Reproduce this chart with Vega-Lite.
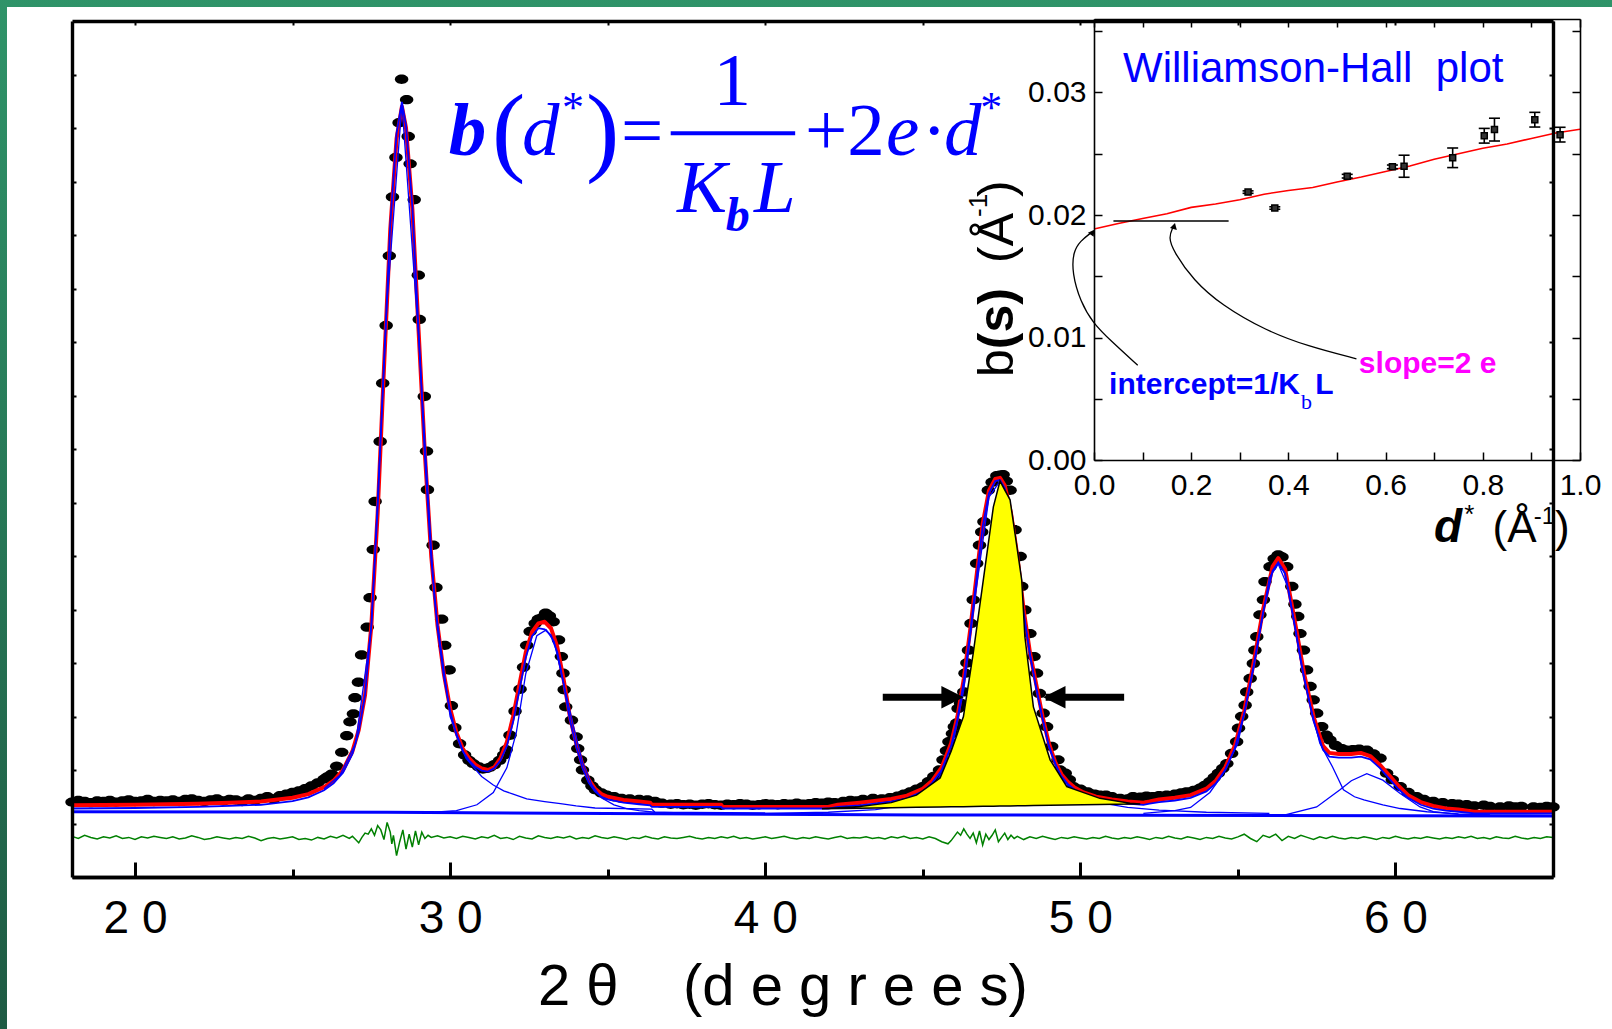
{
"$schema": "https://vega.github.io/schema/vega-lite/v6.json",
"width": 1481, "height": 856,
"autosize": {"type": "none"},
"padding": {"left": 72, "top": 21, "right": 59, "bottom": 152},
"background": "#ffffff",
"config": {"view": {"stroke": null}, "axis": {"grid": false, "domainColor": "#000000", "tickColor": "#000000", "labelColor": "#000000", "labelFont": "Liberation Sans", "labelFlush": false, "labelOverlap": false}},
"datasets": {
"obs": [{"t":18.0,"v":140},{"t":18.2,"v":143},{"t":18.4,"v":141},{"t":18.6,"v":139},{"t":18.8,"v":142},{"t":19.0,"v":141},{"t":19.2,"v":143},{"t":19.4,"v":140},{"t":19.6,"v":142},{"t":19.8,"v":144},{"t":20.0,"v":141},{"t":20.2,"v":142},{"t":20.4,"v":145},{"t":20.6,"v":141},{"t":20.8,"v":143},{"t":21.0,"v":142},{"t":21.2,"v":144},{"t":21.4,"v":141},{"t":21.6,"v":145},{"t":21.8,"v":146},{"t":22.0,"v":143},{"t":22.2,"v":141},{"t":22.4,"v":144},{"t":22.6,"v":146},{"t":22.8,"v":142},{"t":23.0,"v":145},{"t":23.2,"v":144},{"t":23.4,"v":141},{"t":23.6,"v":146},{"t":23.8,"v":143},{"t":24.0,"v":147},{"t":24.2,"v":150},{"t":24.4,"v":146},{"t":24.6,"v":152},{"t":24.8,"v":155},{"t":25.0,"v":158},{"t":25.2,"v":161},{"t":25.4,"v":165},{"t":25.6,"v":170},{"t":25.8,"v":176},{"t":26.0,"v":183},{"t":26.1,"v":187},{"t":26.24,"v":192},{"t":26.4,"v":207},{"t":26.56,"v":233},{"t":26.72,"v":264},{"t":26.82,"v":290},{"t":26.93,"v":305},{"t":26.98,"v":335},{"t":27.09,"v":364},{"t":27.19,"v":415},{"t":27.37,"v":467},{"t":27.46,"v":522},{"t":27.56,"v":612},{"t":27.62,"v":702},{"t":27.78,"v":814},{"t":27.86,"v":923},{"t":27.97,"v":1031},{"t":28.07,"v":1161},{"t":28.17,"v":1271},{"t":28.28,"v":1345},{"t":28.38,"v":1410},{"t":28.46,"v":1491},{"t":28.62,"v":1453},{"t":28.67,"v":1384},{"t":28.73,"v":1333},{"t":28.86,"v":1266},{"t":28.99,"v":1125},{"t":29.02,"v":1042},{"t":29.18,"v":898},{"t":29.25,"v":796},{"t":29.28,"v":724},{"t":29.46,"v":620},{"t":29.55,"v":541},{"t":29.73,"v":482},{"t":29.83,"v":433},{"t":29.97,"v":387},{"t":30.04,"v":320},{"t":30.15,"v":279},{"t":30.3,"v":249},{"t":30.46,"v":228},{"t":30.6,"v":218},{"t":30.73,"v":212},{"t":30.9,"v":206},{"t":31.04,"v":202},{"t":31.15,"v":203},{"t":31.26,"v":205},{"t":31.4,"v":210},{"t":31.57,"v":218},{"t":31.7,"v":228},{"t":31.78,"v":238},{"t":31.9,"v":265},{"t":32.06,"v":310},{"t":32.22,"v":351},{"t":32.33,"v":392},{"t":32.43,"v":433},{"t":32.54,"v":459},{"t":32.7,"v":474},{"t":32.8,"v":482},{"t":32.91,"v":484},{"t":33.03,"v":493},{"t":33.15,"v":488},{"t":33.27,"v":477},{"t":33.44,"v":443},{"t":33.53,"v":412},{"t":33.58,"v":381},{"t":33.62,"v":350},{"t":33.67,"v":318},{"t":33.85,"v":293},{"t":34.0,"v":262},{"t":34.05,"v":240},{"t":34.14,"v":219},{"t":34.2,"v":200},{"t":34.37,"v":181},{"t":34.5,"v":170},{"t":34.61,"v":163},{"t":34.8,"v":157},{"t":34.97,"v":153},{"t":35.2,"v":150},{"t":35.44,"v":147},{"t":35.7,"v":146},{"t":36.0,"v":145},{"t":36.26,"v":144},{"t":36.5,"v":141},{"t":36.72,"v":138},{"t":37.0,"v":136},{"t":37.2,"v":137},{"t":37.4,"v":135},{"t":37.6,"v":136},{"t":37.8,"v":134},{"t":38.0,"v":136},{"t":38.2,"v":137},{"t":38.4,"v":135},{"t":38.6,"v":134},{"t":38.8,"v":136},{"t":39.0,"v":135},{"t":39.2,"v":137},{"t":39.4,"v":136},{"t":39.6,"v":134},{"t":39.8,"v":135},{"t":40.0,"v":137},{"t":40.2,"v":136},{"t":40.4,"v":135},{"t":40.6,"v":137},{"t":40.8,"v":136},{"t":41.0,"v":138},{"t":41.2,"v":136},{"t":41.4,"v":137},{"t":41.6,"v":139},{"t":41.8,"v":138},{"t":42.0,"v":140},{"t":42.2,"v":139},{"t":42.48,"v":141},{"t":42.7,"v":143},{"t":42.9,"v":142},{"t":43.1,"v":145},{"t":43.42,"v":147},{"t":43.7,"v":146},{"t":43.96,"v":148},{"t":44.2,"v":151},{"t":44.4,"v":155},{"t":44.6,"v":159},{"t":44.8,"v":164},{"t":45.0,"v":169},{"t":45.18,"v":178},{"t":45.35,"v":188},{"t":45.53,"v":200},{"t":45.64,"v":219},{"t":45.75,"v":236},{"t":45.83,"v":253},{"t":45.94,"v":268},{"t":46.0,"v":281},{"t":46.08,"v":288},{"t":46.12,"v":315},{"t":46.2,"v":325},{"t":46.3,"v":346},{"t":46.34,"v":381},{"t":46.4,"v":400},{"t":46.45,"v":424},{"t":46.53,"v":474},{"t":46.6,"v":518},{"t":46.71,"v":586},{"t":46.8,"v":620},{"t":46.87,"v":645},{"t":46.94,"v":664},{"t":47.08,"v":723},{"t":47.2,"v":738},{"t":47.35,"v":750},{"t":47.45,"v":751},{"t":47.55,"v":752},{"t":47.65,"v":740},{"t":47.77,"v":723},{"t":47.93,"v":649},{"t":48.09,"v":599},{"t":48.14,"v":543},{"t":48.24,"v":499},{"t":48.4,"v":455},{"t":48.53,"v":412},{"t":48.61,"v":381},{"t":48.7,"v":343},{"t":48.82,"v":306},{"t":48.93,"v":281},{"t":49.09,"v":244},{"t":49.29,"v":219},{"t":49.35,"v":200},{"t":49.52,"v":194},{"t":49.65,"v":182},{"t":49.78,"v":169},{"t":50.0,"v":164},{"t":50.23,"v":159},{"t":50.45,"v":155},{"t":50.62,"v":153},{"t":50.81,"v":153},{"t":51.0,"v":150},{"t":51.26,"v":147},{"t":51.5,"v":146},{"t":51.67,"v":150},{"t":51.9,"v":149},{"t":52.1,"v":151},{"t":52.3,"v":150},{"t":52.5,"v":152},{"t":52.74,"v":153},{"t":53.0,"v":155},{"t":53.2,"v":157},{"t":53.37,"v":159},{"t":53.6,"v":162},{"t":53.8,"v":166},{"t":53.95,"v":171},{"t":54.11,"v":178},{"t":54.25,"v":186},{"t":54.38,"v":194},{"t":54.52,"v":203},{"t":54.65,"v":212},{"t":54.8,"v":231},{"t":54.96,"v":253},{"t":55.02,"v":278},{"t":55.12,"v":300},{"t":55.23,"v":321},{"t":55.28,"v":346},{"t":55.39,"v":371},{"t":55.49,"v":399},{"t":55.54,"v":424},{"t":55.6,"v":449},{"t":55.7,"v":490},{"t":55.81,"v":518},{"t":55.86,"v":552},{"t":56.02,"v":580},{"t":56.15,"v":595},{"t":56.28,"v":602},{"t":56.4,"v":598},{"t":56.55,"v":580},{"t":56.71,"v":543},{"t":56.81,"v":510},{"t":56.9,"v":487},{"t":56.97,"v":455},{"t":57.08,"v":424},{"t":57.18,"v":387},{"t":57.29,"v":356},{"t":57.39,"v":331},{"t":57.5,"v":306},{"t":57.66,"v":281},{"t":57.8,"v":265},{"t":57.92,"v":256},{"t":58.1,"v":246},{"t":58.3,"v":240},{"t":58.45,"v":237},{"t":58.65,"v":238},{"t":58.85,"v":239},{"t":59.09,"v":237},{"t":59.3,"v":230},{"t":59.51,"v":222},{"t":59.72,"v":194},{"t":59.9,"v":182},{"t":60.15,"v":169},{"t":60.4,"v":158},{"t":60.67,"v":150},{"t":60.9,"v":145},{"t":61.2,"v":141},{"t":61.5,"v":139},{"t":61.8,"v":137},{"t":62.0,"v":136},{"t":62.26,"v":135},{"t":62.5,"v":133},{"t":62.8,"v":134},{"t":63.0,"v":132},{"t":63.32,"v":131},{"t":63.6,"v":133},{"t":63.8,"v":131},{"t":64.0,"v":132},{"t":64.38,"v":131},{"t":64.6,"v":130},{"t":64.8,"v":132},{"t":65.0,"v":131}],
"fit": [{"t":18,"r":134,"b":128},{"t":20,"r":135,"b":129},{"t":22,"r":137,"b":131},{"t":23,"r":139,"b":133},{"t":24,"r":141,"b":135},{"t":25,"r":148,"b":142},{"t":25.5,"r":155,"b":149},{"t":26,"r":168,"b":162},{"t":26.3,"r":180,"b":175},{"t":26.6,"r":200,"b":195},{"t":26.9,"r":235,"b":230},{"t":27.1,"r":275,"b":272},{"t":27.3,"r":340,"b":340},{"t":27.5,"r":470,"b":472},{"t":27.7,"r":680,"b":690},{"t":27.9,"r":950,"b":960},{"t":28.1,"r":1210,"b":1220},{"t":28.3,"r":1380,"b":1390},{"t":28.47,"r":1440,"b":1449},{"t":28.6,"r":1400,"b":1405},{"t":28.8,"r":1250,"b":1255},{"t":29.0,"r":1020,"b":1020},{"t":29.2,"r":790,"b":785},{"t":29.4,"r":600,"b":595},{"t":29.6,"r":470,"b":465},{"t":29.8,"r":380,"b":375},{"t":30.0,"r":315,"b":310},{"t":30.2,"r":270,"b":265},{"t":30.4,"r":240,"b":235},{"t":30.6,"r":222,"b":218},{"t":30.8,"r":210,"b":206},{"t":31.0,"r":203,"b":199},{"t":31.2,"r":200,"b":197},{"t":31.4,"r":205,"b":203},{"t":31.6,"r":222,"b":218},{"t":31.8,"r":252,"b":245},{"t":32.0,"r":300,"b":290},{"t":32.2,"r":360,"b":350},{"t":32.4,"r":420,"b":410},{"t":32.6,"r":458,"b":450},{"t":32.8,"r":474,"b":465},{"t":33.0,"r":477,"b":463},{"t":33.2,"r":465,"b":452},{"t":33.4,"r":430,"b":420},{"t":33.6,"r":370,"b":362},{"t":33.8,"r":300,"b":294},{"t":34.0,"r":250,"b":244},{"t":34.2,"r":210,"b":204},{"t":34.4,"r":182,"b":176},{"t":34.6,"r":165,"b":160},{"t":34.8,"r":155,"b":150},{"t":35.0,"r":150,"b":145},{"t":35.5,"r":144,"b":139},{"t":36.0,"r":141,"b":136},{"t":36.35,"r":139,"b":134},{"t":36.4,"r":135,"b":131},{"t":38.6,"r":135,"b":131},{"t":38.65,"r":131,"b":128},{"t":42.0,"r":131,"b":128},{"t":42.3,"r":135,"b":131},{"t":43,"r":139,"b":134},{"t":44,"r":146,"b":141},{"t":44.5,"r":152,"b":147},{"t":45.0,"r":165,"b":160},{"t":45.3,"r":180,"b":176},{"t":45.6,"r":205,"b":200},{"t":45.9,"r":250,"b":245},{"t":46.1,"r":300,"b":295},{"t":46.3,"r":370,"b":365},{"t":46.5,"r":460,"b":455},{"t":46.7,"r":560,"b":555},{"t":46.9,"r":660,"b":655},{"t":47.1,"r":722,"b":717},{"t":47.3,"r":744,"b":740},{"t":47.45,"r":746,"b":742},{"t":47.6,"r":732,"b":727},{"t":47.8,"r":680,"b":675},{"t":48.0,"r":600,"b":595},{"t":48.2,"r":500,"b":495},{"t":48.4,"r":420,"b":415},{"t":48.6,"r":360,"b":355},{"t":48.8,"r":300,"b":296},{"t":49.0,"r":250,"b":246},{"t":49.2,"r":215,"b":211},{"t":49.4,"r":192,"b":188},{"t":49.6,"r":178,"b":174},{"t":49.8,"r":168,"b":164},{"t":50.1,"r":158,"b":154},{"t":50.5,"r":150,"b":146},{"t":51,"r":145,"b":141},{"t":51.5,"r":141,"b":137},{"t":52.0,"r":139,"b":135},{"t":52.2,"r":141,"b":137},{"t":52.5,"r":145,"b":140},{"t":53,"r":148,"b":143},{"t":53.5,"r":153,"b":148},{"t":54.0,"r":165,"b":160},{"t":54.3,"r":180,"b":175},{"t":54.6,"r":205,"b":200},{"t":54.9,"r":245,"b":240},{"t":55.2,"r":310,"b":305},{"t":55.5,"r":400,"b":395},{"t":55.8,"r":500,"b":495},{"t":56.1,"r":580,"b":572},{"t":56.28,"r":596,"b":588},{"t":56.5,"r":575,"b":567},{"t":56.8,"r":480,"b":472},{"t":57.1,"r":380,"b":372},{"t":57.4,"r":300,"b":292},{"t":57.7,"r":245,"b":238},{"t":57.9,"r":232,"b":225},{"t":58.2,"r":230,"b":223},{"t":58.6,"r":230,"b":223},{"t":58.9,"r":232,"b":225},{"t":59.2,"r":226,"b":220},{"t":59.5,"r":210,"b":204},{"t":59.8,"r":190,"b":184},{"t":60.1,"r":170,"b":164},{"t":60.4,"r":153,"b":148},{"t":60.8,"r":140,"b":135},{"t":61.2,"r":133,"b":128},{"t":61.6,"r":128,"b":124},{"t":62,"r":126,"b":122},{"t":62.5,"r":122,"b":119},{"t":65,"r":122,"b":119}],
"comp": [{"c":"1","t":26,"v":165},{"c":"1","t":26.5,"v":190},{"c":"1","t":27,"v":250},{"c":"1","t":27.5,"v":465},{"c":"1","t":28,"v":1075},{"c":"1","t":28.47,"v":1445},{"c":"1","t":29,"v":1010},{"c":"1","t":29.5,"v":520},{"c":"1","t":30,"v":300},{"c":"1","t":30.5,"v":222},{"c":"1","t":31,"v":188},{"c":"1","t":31.37,"v":172},{"c":"1","t":31.7,"v":161},{"c":"1","t":32,"v":155},{"c":"1","t":32.43,"v":146},{"c":"1","t":33,"v":141},{"c":"1","t":33.5,"v":137},{"c":"1","t":34,"v":133},{"c":"1","t":34.6,"v":129},{"c":"1","t":36.4,"v":127},{"c":"1","t":36.5,"v":121},{"c":"1","t":40,"v":120},
{"c":"2","t":29.5,"v":121},{"c":"2","t":30.2,"v":124},{"c":"2","t":30.85,"v":135},{"c":"2","t":31.37,"v":158},{"c":"2","t":31.8,"v":204},{"c":"2","t":32.1,"v":270},{"c":"2","t":32.4,"v":380},{"c":"2","t":32.75,"v":451},{"c":"2","t":33.05,"v":462},{"c":"2","t":33.3,"v":440},{"c":"2","t":33.6,"v":362},{"c":"2","t":33.9,"v":285},{"c":"2","t":34.2,"v":215},{"c":"2","t":34.5,"v":172},{"c":"2","t":34.8,"v":148},{"c":"2","t":35.2,"v":135},{"c":"2","t":35.6,"v":128},{"c":"2","t":36,"v":124},{"c":"2","t":36.5,"v":121},{"c":"2","t":38,"v":119},
{"c":"3","t":40,"v":119},{"c":"3","t":42,"v":121},{"c":"3","t":43.5,"v":126},{"c":"3","t":44.5,"v":135},{"c":"3","t":45.3,"v":160},{"c":"3","t":45.9,"v":232},{"c":"3","t":46.3,"v":350},{"c":"3","t":46.7,"v":540},{"c":"3","t":47.1,"v":710},{"c":"3","t":47.45,"v":740},{"c":"3","t":47.8,"v":668},{"c":"3","t":48.2,"v":490},{"c":"3","t":48.6,"v":350},{"c":"3","t":49,"v":243},{"c":"3","t":49.4,"v":185},{"c":"3","t":49.8,"v":158},{"c":"3","t":50.2,"v":146},{"c":"3","t":50.8,"v":137},{"c":"3","t":51.5,"v":130},{"c":"3","t":52.5,"v":125},{"c":"3","t":54,"v":121},{"c":"3","t":56,"v":119},
{"c":"4","t":52,"v":119},{"c":"4","t":53,"v":124},{"c":"4","t":53.5,"v":130},{"c":"4","t":54.11,"v":158},{"c":"4","t":54.5,"v":190},{"c":"4","t":55,"v":250},{"c":"4","t":55.5,"v":390},{"c":"4","t":56,"v":560},{"c":"4","t":56.28,"v":585},{"c":"4","t":56.6,"v":540},{"c":"4","t":57,"v":400},{"c":"4","t":57.3,"v":320},{"c":"4","t":57.6,"v":250},{"c":"4","t":58.0,"v":206},{"c":"4","t":58.35,"v":163},{"c":"4","t":58.7,"v":150},{"c":"4","t":59,"v":144},{"c":"4","t":59.6,"v":135},{"c":"4","t":60.15,"v":128},{"c":"4","t":61,"v":122},{"c":"4","t":62,"v":118},{"c":"4","t":63,"v":116},{"c":"4","t":65,"v":115},
{"c":"5","t":56.5,"v":116},{"c":"5","t":57.5,"v":131},{"c":"5","t":58.24,"v":163},{"c":"5","t":58.6,"v":180},{"c":"5","t":59.09,"v":193},{"c":"5","t":59.6,"v":181},{"c":"5","t":60.15,"v":156},{"c":"5","t":60.78,"v":131},{"c":"5","t":61.2,"v":122},{"c":"5","t":62,"v":117},{"c":"5","t":63,"v":116}],
"bgl": [{"t":18,"v":122},{"t":28,"v":121},{"t":36.5,"v":118},{"t":45,"v":116},{"t":56,"v":115},{"t":65,"v":114}],
"res": [{"t":18.0,"v":76},{"t":18.2,"v":72},{"t":18.4,"v":78},{"t":18.6,"v":74},{"t":18.8,"v":71},{"t":19.0,"v":75},{"t":19.2,"v":73},{"t":19.4,"v":77},{"t":19.6,"v":72},{"t":19.8,"v":74},{"t":20.0,"v":70},{"t":20.2,"v":75},{"t":20.4,"v":73},{"t":20.6,"v":76},{"t":20.8,"v":74},{"t":21.0,"v":72},{"t":21.2,"v":75},{"t":21.4,"v":71},{"t":21.6,"v":73},{"t":21.8,"v":77},{"t":22.0,"v":74},{"t":22.2,"v":70},{"t":22.4,"v":72},{"t":22.6,"v":75},{"t":22.8,"v":73},{"t":23.0,"v":71},{"t":23.2,"v":74},{"t":23.4,"v":72},{"t":23.6,"v":76},{"t":23.8,"v":73},{"t":24.0,"v":68},{"t":24.2,"v":72},{"t":24.4,"v":74},{"t":24.6,"v":71},{"t":24.8,"v":73},{"t":25.0,"v":75},{"t":25.2,"v":70},{"t":25.4,"v":72},{"t":25.6,"v":69},{"t":25.8,"v":74},{"t":26.0,"v":71},{"t":26.2,"v":76},{"t":26.4,"v":73},{"t":26.6,"v":78},{"t":26.8,"v":72},{"t":26.9,"v":76},{"t":27.0,"v":70},{"t":27.1,"v":64},{"t":27.2,"v":74},{"t":27.3,"v":82},{"t":27.4,"v":80},{"t":27.5,"v":90},{"t":27.6,"v":78},{"t":27.7,"v":96},{"t":27.8,"v":88},{"t":27.9,"v":70},{"t":28.0,"v":102},{"t":28.1,"v":84},{"t":28.15,"v":62},{"t":28.2,"v":78},{"t":28.3,"v":40},{"t":28.4,"v":66},{"t":28.5,"v":88},{"t":28.6,"v":52},{"t":28.7,"v":80},{"t":28.8,"v":56},{"t":28.9,"v":86},{"t":29.0,"v":60},{"t":29.1,"v":84},{"t":29.2,"v":72},{"t":29.3,"v":78},{"t":29.4,"v":74},{"t":29.6,"v":77},{"t":29.8,"v":73},{"t":30.0,"v":75},{"t":30.2,"v":72},{"t":30.4,"v":76},{"t":30.6,"v":74},{"t":30.8,"v":71},{"t":31.0,"v":75},{"t":31.2,"v":73},{"t":31.4,"v":78},{"t":31.6,"v":72},{"t":31.8,"v":74},{"t":32.0,"v":70},{"t":32.2,"v":76},{"t":32.4,"v":73},{"t":32.6,"v":71},{"t":32.8,"v":77},{"t":33.0,"v":74},{"t":33.2,"v":72},{"t":33.4,"v":75},{"t":33.6,"v":73},{"t":33.8,"v":76},{"t":34.0,"v":71},{"t":34.2,"v":74},{"t":34.4,"v":72},{"t":34.6,"v":77},{"t":34.8,"v":74},{"t":35.0,"v":72},{"t":35.2,"v":75},{"t":35.4,"v":73},{"t":35.6,"v":70},{"t":35.8,"v":74},{"t":36.0,"v":72},{"t":36.2,"v":76},{"t":36.4,"v":73},{"t":36.6,"v":71},{"t":36.8,"v":75},{"t":37.0,"v":73},{"t":37.2,"v":72},{"t":37.4,"v":74},{"t":37.6,"v":76},{"t":37.8,"v":73},{"t":38.0,"v":71},{"t":38.2,"v":74},{"t":38.4,"v":72},{"t":38.6,"v":75},{"t":38.8,"v":73},{"t":39.0,"v":76},{"t":39.2,"v":72},{"t":39.4,"v":74},{"t":39.6,"v":71},{"t":39.8,"v":73},{"t":40.0,"v":75},{"t":40.2,"v":72},{"t":40.4,"v":74},{"t":40.6,"v":76},{"t":40.8,"v":73},{"t":41.0,"v":71},{"t":41.2,"v":74},{"t":41.4,"v":72},{"t":41.6,"v":75},{"t":41.8,"v":73},{"t":42.0,"v":71},{"t":42.2,"v":74},{"t":42.4,"v":76},{"t":42.6,"v":72},{"t":42.8,"v":74},{"t":43.0,"v":73},{"t":43.2,"v":75},{"t":43.4,"v":72},{"t":43.6,"v":74},{"t":43.8,"v":71},{"t":44.0,"v":75},{"t":44.2,"v":73},{"t":44.4,"v":76},{"t":44.6,"v":72},{"t":44.8,"v":74},{"t":45.0,"v":71},{"t":45.2,"v":75},{"t":45.4,"v":72},{"t":45.6,"v":66},{"t":45.8,"v":62},{"t":45.9,"v":68},{"t":46.0,"v":76},{"t":46.1,"v":84},{"t":46.2,"v":78},{"t":46.3,"v":90},{"t":46.4,"v":80},{"t":46.5,"v":72},{"t":46.6,"v":82},{"t":46.7,"v":64},{"t":46.8,"v":86},{"t":46.9,"v":60},{"t":47.0,"v":80},{"t":47.1,"v":70},{"t":47.2,"v":78},{"t":47.3,"v":88},{"t":47.4,"v":66},{"t":47.5,"v":74},{"t":47.6,"v":82},{"t":47.7,"v":70},{"t":47.8,"v":78},{"t":47.9,"v":72},{"t":48.0,"v":76},{"t":48.2,"v":70},{"t":48.4,"v":75},{"t":48.6,"v":72},{"t":48.8,"v":76},{"t":49.0,"v":73},{"t":49.2,"v":70},{"t":49.4,"v":74},{"t":49.6,"v":72},{"t":49.8,"v":75},{"t":50.0,"v":73},{"t":50.2,"v":71},{"t":50.4,"v":74},{"t":50.6,"v":72},{"t":50.8,"v":76},{"t":51.0,"v":73},{"t":51.2,"v":71},{"t":51.4,"v":74},{"t":51.6,"v":72},{"t":51.8,"v":75},{"t":52.0,"v":73},{"t":52.2,"v":70},{"t":52.4,"v":74},{"t":52.6,"v":72},{"t":52.8,"v":76},{"t":53.0,"v":73},{"t":53.2,"v":71},{"t":53.4,"v":75},{"t":53.6,"v":73},{"t":53.8,"v":70},{"t":54.0,"v":74},{"t":54.2,"v":72},{"t":54.4,"v":76},{"t":54.6,"v":73},{"t":54.8,"v":71},{"t":55.0,"v":75},{"t":55.2,"v":80},{"t":55.4,"v":72},{"t":55.6,"v":66},{"t":55.8,"v":78},{"t":56.0,"v":74},{"t":56.2,"v":80},{"t":56.4,"v":68},{"t":56.6,"v":76},{"t":56.8,"v":72},{"t":57.0,"v":78},{"t":57.2,"v":74},{"t":57.4,"v":70},{"t":57.6,"v":75},{"t":57.8,"v":72},{"t":58.0,"v":76},{"t":58.2,"v":73},{"t":58.4,"v":71},{"t":58.6,"v":74},{"t":58.8,"v":72},{"t":59.0,"v":75},{"t":59.2,"v":73},{"t":59.4,"v":70},{"t":59.6,"v":74},{"t":59.8,"v":72},{"t":60.0,"v":76},{"t":60.2,"v":73},{"t":60.4,"v":71},{"t":60.6,"v":74},{"t":60.8,"v":72},{"t":61.0,"v":75},{"t":61.2,"v":73},{"t":61.4,"v":71},{"t":61.6,"v":74},{"t":61.8,"v":72},{"t":62.0,"v":75},{"t":62.2,"v":73},{"t":62.4,"v":76},{"t":62.6,"v":72},{"t":62.8,"v":74},{"t":63.0,"v":71},{"t":63.2,"v":75},{"t":63.4,"v":73},{"t":63.6,"v":72},{"t":63.8,"v":76},{"t":64.0,"v":73},{"t":64.2,"v":71},{"t":64.4,"v":74},{"t":64.6,"v":72},{"t":64.8,"v":75},{"t":65.0,"v":74}],
"yel": [{"t":41.8,"v":127.5,"b":127.5},{"t":43.0,"v":132,"b":128.6},{"t":44.0,"v":139,"b":129.5},{"t":44.8,"v":153,"b":130.2},{"t":45.55,"v":185,"b":130.9},{"t":45.9,"v":235,"b":131.2},{"t":46.29,"v":300,"b":131.5},{"t":46.6,"v":418,"b":131.8},{"t":46.92,"v":555,"b":132.1},{"t":47.24,"v":692,"b":132.4},{"t":47.45,"v":740,"b":132.6},{"t":47.77,"v":705,"b":132.9},{"t":48.14,"v":555,"b":133.2},{"t":48.24,"v":449,"b":133.3},{"t":48.51,"v":318,"b":133.6},{"t":49.04,"v":219,"b":134},{"t":49.57,"v":169,"b":134.5},{"t":50.62,"v":147,"b":135.5},{"t":51.58,"v":138,"b":136.3},{"t":51.9,"v":136.6,"b":136.6}],
"shaft": [{"t":43.73,"t2":45.7,"v":336},{"t":48.9,"t2":51.39,"v":336}],
"headR": [{"t":46.3,"v":336}],
"headL": [{"t":48.82,"v":336}],
"bar": [{"t":37.0,"t2":40.95,"v":1390}],
"fml": [{"s":"b","t":29.96,"v":1350,"k":"bi"},{"s":"d","t":32.28,"v":1350,"k":"i"},{"s":"K","t":37.2,"v":1243,"k":"i"},{"s":"L","t":39.64,"v":1243,"k":"i"},{"s":"e","t":43.83,"v":1350,"k":"i"},{"s":"d","t":45.67,"v":1350,"k":"i"},{"s":"=","t":35.42,"v":1350,"k":"r"},{"s":"+2","t":41.26,"v":1350,"k":"r"},{"s":"1","t":38.95,"v":1443,"k":"c"},{"s":"·","t":45.36,"v":1350,"k":"c"},{"s":"(","t":31.33,"v":1334.6,"k":"p"},{"s":")","t":34.31,"v":1334.6,"k":"p"},{"s":"*","t":33.55,"v":1412,"k":"a"},{"s":"*","t":46.82,"v":1412,"k":"a"},{"s":"b","t":38.75,"v":1207.5,"k":"sb"},{"s":"2\u00a0θ\u00a0\u00a0\u00a0\u00a0(d\u00a0e\u00a0g\u00a0r\u00a0e\u00a0e\u00a0s)","t":40.56,"v":-240,"k":"tt"}],
"ifit": [{"x":0,"y":0.01886},{"x":0.05,"y":0.0193},{"x":0.1,"y":0.01972},{"x":0.15,"y":0.0201},{"x":0.2,"y":0.02062},{"x":0.25,"y":0.0209},{"x":0.3,"y":0.02125},{"x":0.35,"y":0.0217},{"x":0.4,"y":0.022},{"x":0.45,"y":0.02225},{"x":0.5,"y":0.0227},{"x":0.55,"y":0.0231},{"x":0.6,"y":0.02355},{"x":0.65,"y":0.024},{"x":0.7,"y":0.02455},{"x":0.75,"y":0.025},{"x":0.8,"y":0.02545},{"x":0.85,"y":0.0258},{"x":0.9,"y":0.02625},{"x":0.95,"y":0.0267},{"x":1.0,"y":0.027}],
"ipts": [{"x":0.317,"y":0.02187,"lo":0.02177,"hi":0.02197},{"x":0.372,"y":0.02057,"lo":0.02047,"hi":0.02067},{"x":0.521,"y":0.02317,"lo":0.02302,"hi":0.02332},{"x":0.614,"y":0.02393,"lo":0.02378,"hi":0.02408},{"x":0.638,"y":0.02398,"lo":0.02308,"hi":0.02488},{"x":0.738,"y":0.02467,"lo":0.02387,"hi":0.02547},{"x":0.803,"y":0.02647,"lo":0.02587,"hi":0.02707},{"x":0.824,"y":0.02697,"lo":0.02604,"hi":0.0279},{"x":0.907,"y":0.02778,"lo":0.02718,"hi":0.02838},{"x":0.959,"y":0.02656,"lo":0.02596,"hi":0.02716}],
"ihl": [{"x":0.04,"x2":0.277,"y":0.01951}],
"icurve": [{"id":1,"o":1,"x":0.09,"y":0.00773},{"id":1,"o":2,"x":0.035,"y":0.00972},{"id":1,"o":3,"x":-0.002,"y":0.01117},{"id":1,"o":4,"x":-0.028,"y":0.01293},{"id":1,"o":5,"x":-0.045,"y":0.01525},{"id":1,"o":6,"x":-0.043,"y":0.017},{"id":1,"o":7,"x":-0.028,"y":0.01788},{"id":1,"o":8,"x":-0.006,"y":0.01855},{"id":2,"o":1,"x":0.54,"y":0.00826},{"id":2,"o":2,"x":0.44,"y":0.00928},{"id":2,"o":3,"x":0.352,"y":0.01059},{"id":2,"o":4,"x":0.263,"y":0.01263},{"id":2,"o":5,"x":0.2045,"y":0.01467},{"id":2,"o":6,"x":0.164,"y":0.017},{"id":2,"o":7,"x":0.153,"y":0.01816},{"id":2,"o":8,"x":0.163,"y":0.01905}],
"ihead1": [{"x":-0.003,"y":0.0186}],
"ihead2": [{"x":0.165,"y":0.0191}],
"itxt": [{"s":"Williamson-Hall\u00a0\u00a0plot","x":0.0597,"y":0.03088,"k":"wh"},{"s":"intercept=1/K","x":0.031,"y":0.00539,"k":"ib"},{"s":"L","x":0.455,"y":0.00539,"k":"ib"},{"s":"b","x":0.426,"y":0.0042,"k":"isub"},{"s":"slope=2 e","x":0.545,"y":0.00712,"k":"mag"},{"s":"d","x":0.6996,"y":-0.00667,"k":"xd"},{"s":"*","x":0.762,"y":-0.00517,"k":"xa"},{"s":"(Å","x":0.82,"y":-0.00667,"k":"xp"},{"s":"-1","x":0.905,"y":-0.00522,"k":"xs"},{"s":")","x":0.9486,"y":-0.00667,"k":"xp"},{"s":"b","x":-0.1667,"y":0.00678,"k":"yr"},{"s":"(s)","x":-0.1667,"y":0.00904,"k":"yb"},{"s":"(Å","x":-0.1667,"y":0.01608,"k":"yr"},{"s":"-1","x":-0.2202,"y":0.01984,"k":"ysup"},{"s":")","x":-0.1667,"y":0.02147,"k":"yr"}]
},
"layer": [
{
"layer": [
{"data": {"values": [{}]}, "mark": {"type": "rect", "clip": false, "fill": {"gradient": "linear", "x1": 0, "y1": 0, "x2": 0, "y2": 1, "stops": [{"offset": 0, "color": "#2f9469"}, {"offset": 1, "color": "#1e5a43"}]}},
 "encoding": {"x": {"datum": 15.6, "type": "quantitative", "scale": {"domain": [18, 65], "nice": false, "zero": false}, "axis": null}, "x2": {"datum": 67}, "y": {"datum": -300, "type": "quantitative", "scale": {"domain": [0, 1600], "nice": false, "zero": false}, "axis": null}, "y2": {"datum": 1660}}},
{"data": {"values": [{}]}, "mark": {"type": "rect", "clip": false, "fill": "#ffffff"},
 "encoding": {"x": {"datum": 15.937, "type": "quantitative", "scale": {"domain": [18, 65], "nice": false, "zero": false}, "axis": null}, "x2": {"datum": 67}, "y": {"datum": -300, "type": "quantitative", "scale": {"domain": [0, 1600], "nice": false, "zero": false}, "axis": null}, "y2": {"datum": 1626.2}}},
{"data": {"name": "obs"}, "mark": {"type": "point", "shape": "M-1,0A1,0.7,0,1,0,1,0A1,0.7,0,1,0,-1,0Z", "filled": true, "color": "#000000", "opacity": 1, "size": 180},
 "encoding": {
  "x": {"field": "t", "type": "quantitative", "scale": {"domain": [18, 65], "nice": false, "zero": false}, "axis": {"zindex": 1, "orient": "bottom", "values": [20, 30, 40, 50, 60], "tickSize": -15, "tickWidth": 3, "domainWidth": 3.4, "labelFontSize": 46, "labelPadding": 70, "labelBaseline": "alphabetic", "labelExpr": "slice(datum.label,0,1)+' '+slice(datum.label,1)", "title": null}},
  "y": {"field": "v", "type": "quantitative", "scale": {"domain": [0, 1600], "nice": false, "zero": false}, "axis": {"zindex": 1, "orient": "left", "values": [100,200,300,400,500,600,700,800,900,1000,1100,1200,1300,1400,1500], "tickSize": -4, "tickWidth": 2, "domainWidth": 3.4, "labels": false, "title": null}}}},
{"data": {"name": "fit"}, "mark": {"type": "line", "color": "#ff0000", "strokeWidth": 4, "strokeJoin": "round"},
 "encoding": {
  "x": {"field": "t", "type": "quantitative", "scale": {"domain": [18, 65], "nice": false, "zero": false}, "axis": {"zindex": 1, "orient": "bottom", "values": [25, 35, 45, 55], "tickSize": -8, "tickWidth": 3, "domainWidth": 3.4, "labels": false, "title": null}},
  "y": {"field": "r", "type": "quantitative", "scale": {"domain": [0, 1600], "nice": false, "zero": false}, "axis": {"zindex": 1, "orient": "right", "values": [100,200,300,400,500,600,700,800,900,1000,1100,1200,1300,1400,1500], "tickSize": -4, "tickWidth": 2, "domainWidth": 3.4, "labels": false, "title": null}}}},
{"data": {"name": "fit"}, "mark": {"type": "line", "color": "#0000ff", "strokeWidth": 1.8},
 "encoding": {
  "x": {"field": "t", "type": "quantitative", "scale": {"domain": [18, 65], "nice": false, "zero": false}, "axis": {"zindex": 1, "orient": "top", "values": [20,25,30,35,40,45,50,55,60,65], "tickSize": -4, "tickWidth": 2, "domainWidth": 3.4, "labels": false, "title": null}},
  "y": {"field": "b", "type": "quantitative", "scale": {"domain": [0, 1600], "nice": false, "zero": false}, "axis": null}}},
{"data": {"name": "comp"}, "mark": {"type": "line", "color": "#0000ff", "strokeWidth": 1.3},
 "encoding": {"x": {"field": "t", "type": "quantitative", "scale": {"domain": [18, 65], "nice": false, "zero": false}, "axis": null}, "y": {"field": "v", "type": "quantitative", "scale": {"domain": [0, 1600], "nice": false, "zero": false}, "axis": null}, "detail": {"field": "c", "type": "nominal"}}},
{"data": {"name": "yel"}, "mark": {"type": "area", "fill": "#ffff00", "stroke": "#000000", "strokeWidth": 1.5, "opacity": 1, "fillOpacity": 1},
 "encoding": {"x": {"field": "t", "type": "quantitative", "scale": {"domain": [18, 65], "nice": false, "zero": false}, "axis": null}, "y": {"field": "v", "type": "quantitative", "scale": {"domain": [0, 1600], "nice": false, "zero": false}, "axis": null}, "y2": {"field": "b"}}},
{"data": {"name": "bgl"}, "mark": {"type": "line", "color": "#0000ff", "strokeWidth": 3},
 "encoding": {"x": {"field": "t", "type": "quantitative", "scale": {"domain": [18, 65], "nice": false, "zero": false}, "axis": null}, "y": {"field": "v", "type": "quantitative", "scale": {"domain": [0, 1600], "nice": false, "zero": false}, "axis": null}}},
{"data": {"name": "res"}, "mark": {"type": "line", "color": "#008000", "strokeWidth": 1.5},
 "encoding": {"x": {"field": "t", "type": "quantitative", "scale": {"domain": [18, 65], "nice": false, "zero": false}, "axis": null}, "y": {"field": "v", "type": "quantitative", "scale": {"domain": [0, 1600], "nice": false, "zero": false}, "axis": null}}},
{"data": {"name": "shaft"}, "mark": {"type": "rule", "color": "#000000", "strokeWidth": 7, "strokeCap": "butt"},
 "encoding": {"x": {"field": "t", "type": "quantitative", "scale": {"domain": [18, 65], "nice": false, "zero": false}, "axis": null}, "x2": {"field": "t2"}, "y": {"field": "v", "type": "quantitative", "scale": {"domain": [0, 1600], "nice": false, "zero": false}, "axis": null}}},
{"data": {"name": "headR"}, "mark": {"type": "point", "shape": "M0,0L-2,-1L-2,1Z", "filled": true, "color": "#000000", "opacity": 1, "size": 500},
 "encoding": {"x": {"field": "t", "type": "quantitative", "scale": {"domain": [18, 65], "nice": false, "zero": false}, "axis": null}, "y": {"field": "v", "type": "quantitative", "scale": {"domain": [0, 1600], "nice": false, "zero": false}, "axis": null}}},
{"data": {"name": "headL"}, "mark": {"type": "point", "shape": "M0,0L2,-1L2,1Z", "filled": true, "color": "#000000", "opacity": 1, "size": 500},
 "encoding": {"x": {"field": "t", "type": "quantitative", "scale": {"domain": [18, 65], "nice": false, "zero": false}, "axis": null}, "y": {"field": "v", "type": "quantitative", "scale": {"domain": [0, 1600], "nice": false, "zero": false}, "axis": null}}},
{"data": {"name": "bar"}, "mark": {"type": "rule", "color": "#0000ff", "strokeWidth": 4, "strokeCap": "butt"},
 "encoding": {"x": {"field": "t", "type": "quantitative", "scale": {"domain": [18, 65], "nice": false, "zero": false}, "axis": null}, "x2": {"field": "t2"}, "y": {"field": "v", "type": "quantitative", "scale": {"domain": [0, 1600], "nice": false, "zero": false}, "axis": null}}},
{"data": {"name": "fml"}, "transform": [{"filter": "datum.k == 'bi'"}], "mark": {"type": "text", "font": "Liberation Serif", "fontSize": 75, "fontWeight": "bold", "fontStyle": "italic", "color": "#0000ff", "align": "left", "baseline": "alphabetic"},
 "encoding": {"x": {"field": "t", "type": "quantitative", "scale": {"domain": [18, 65], "nice": false, "zero": false}, "axis": null}, "y": {"field": "v", "type": "quantitative", "scale": {"domain": [0, 1600], "nice": false, "zero": false}, "axis": null}, "text": {"field": "s"}}},
{"data": {"name": "fml"}, "transform": [{"filter": "datum.k == 'i'"}], "mark": {"type": "text", "font": "Liberation Serif", "fontSize": 75, "fontStyle": "italic", "color": "#0000ff", "align": "left", "baseline": "alphabetic"},
 "encoding": {"x": {"field": "t", "type": "quantitative", "scale": {"domain": [18, 65], "nice": false, "zero": false}, "axis": null}, "y": {"field": "v", "type": "quantitative", "scale": {"domain": [0, 1600], "nice": false, "zero": false}, "axis": null}, "text": {"field": "s"}}},
{"data": {"name": "fml"}, "transform": [{"filter": "datum.k == 'r'"}], "mark": {"type": "text", "font": "Liberation Serif", "fontSize": 75, "color": "#0000ff", "align": "left", "baseline": "alphabetic"},
 "encoding": {"x": {"field": "t", "type": "quantitative", "scale": {"domain": [18, 65], "nice": false, "zero": false}, "axis": null}, "y": {"field": "v", "type": "quantitative", "scale": {"domain": [0, 1600], "nice": false, "zero": false}, "axis": null}, "text": {"field": "s"}}},
{"data": {"name": "fml"}, "transform": [{"filter": "datum.k == 'c'"}], "mark": {"type": "text", "font": "Liberation Serif", "fontSize": 75, "color": "#0000ff", "align": "center", "baseline": "alphabetic"},
 "encoding": {"x": {"field": "t", "type": "quantitative", "scale": {"domain": [18, 65], "nice": false, "zero": false}, "axis": null}, "y": {"field": "v", "type": "quantitative", "scale": {"domain": [0, 1600], "nice": false, "zero": false}, "axis": null}, "text": {"field": "s"}}},
{"data": {"name": "fml"}, "transform": [{"filter": "datum.k == 'p'"}], "mark": {"type": "text", "font": "Liberation Serif", "fontSize": 100, "color": "#0000ff", "align": "left", "baseline": "alphabetic"},
 "encoding": {"x": {"field": "t", "type": "quantitative", "scale": {"domain": [18, 65], "nice": false, "zero": false}, "axis": null}, "y": {"field": "v", "type": "quantitative", "scale": {"domain": [0, 1600], "nice": false, "zero": false}, "axis": null}, "text": {"field": "s"}}},
{"data": {"name": "fml"}, "transform": [{"filter": "datum.k == 'a'"}], "mark": {"type": "text", "font": "Liberation Serif", "fontSize": 44, "color": "#0000ff", "align": "left", "baseline": "alphabetic"},
 "encoding": {"x": {"field": "t", "type": "quantitative", "scale": {"domain": [18, 65], "nice": false, "zero": false}, "axis": null}, "y": {"field": "v", "type": "quantitative", "scale": {"domain": [0, 1600], "nice": false, "zero": false}, "axis": null}, "text": {"field": "s"}}},
{"data": {"name": "fml"}, "transform": [{"filter": "datum.k == 'sb'"}], "mark": {"type": "text", "font": "Liberation Serif", "fontSize": 48, "fontWeight": "bold", "fontStyle": "italic", "color": "#0000ff", "align": "left", "baseline": "alphabetic"},
 "encoding": {"x": {"field": "t", "type": "quantitative", "scale": {"domain": [18, 65], "nice": false, "zero": false}, "axis": null}, "y": {"field": "v", "type": "quantitative", "scale": {"domain": [0, 1600], "nice": false, "zero": false}, "axis": null}, "text": {"field": "s"}}},
{"data": {"name": "fml"}, "transform": [{"filter": "datum.k == 'tt'"}], "mark": {"type": "text", "font": "Liberation Sans", "fontSize": 58, "color": "#000000", "align": "center", "baseline": "alphabetic"},
 "encoding": {"x": {"field": "t", "type": "quantitative", "scale": {"domain": [18, 65], "nice": false, "zero": false}, "axis": null}, "y": {"field": "v", "type": "quantitative", "scale": {"domain": [0, 1600], "nice": false, "zero": false}, "axis": null}, "text": {"field": "s"}}}
],
"resolve": {"axis": {"x": "independent", "y": "independent"}}
},
{
"layer": [
{"data": {"values": [{}]}, "mark": {"type": "rect", "fill": "#ffffff"},
 "encoding": {"x": {"datum": 0, "type": "quantitative", "scale": {"domain": [0, 1], "range": [1022, 1508], "nice": false, "zero": false}, "axis": null}, "x2": {"datum": 1}, "y": {"datum": 0, "type": "quantitative", "scale": {"domain": [0, 0.036], "range": [439, -2], "nice": false, "zero": false}, "axis": null}, "y2": {"datum": 0.036}}},
{"data": {"name": "ifit"}, "mark": {"type": "line", "color": "#ff0000", "strokeWidth": 1.6},
 "encoding": {
  "x": {"field": "x", "type": "quantitative", "scale": {"domain": [0, 1], "range": [1022, 1508], "nice": false, "zero": false}, "axis": {"zindex": 1, "orient": "bottom", "offset": -417, "values": [0,0.1,0.2,0.3,0.4,0.5,0.6,0.7,0.8,0.9,1.0], "tickSize": -8, "tickWidth": 1.5, "domainWidth": 1.6, "labelFontSize": 30, "labelPadding": 42, "labelBaseline": "alphabetic", "labelExpr": "round(datum.value*10) % 2 == 0 ? format(datum.value, '.1f') : ''", "title": null}},
  "y": {"field": "y", "type": "quantitative", "scale": {"domain": [0, 0.036], "range": [439, -2], "nice": false, "zero": false}, "axis": {"zindex": 1, "orient": "left", "offset": -1022, "values": [0,0.005,0.01,0.015,0.02,0.025,0.03,0.035], "tickSize": -8, "tickWidth": 1.5, "domainWidth": 1.6, "labelFontSize": 30, "labelPadding": 16, "labelBaseline": "middle", "labelExpr": "round(datum.value*1000) % 10 == 0 ? format(datum.value, '.2f') : ''", "title": null}}}},
{"data": {"name": "ihl"}, "mark": {"type": "rule", "color": "#000000", "strokeWidth": 1.6},
 "encoding": {"x": {"field": "x", "type": "quantitative", "scale": {"domain": [0, 1], "range": [1022, 1508], "nice": false, "zero": false}, "axis": null}, "x2": {"field": "x2"}, "y": {"field": "y", "type": "quantitative", "scale": {"domain": [0, 0.036], "range": [439, -2], "nice": false, "zero": false}, "axis": null}}},
{"data": {"name": "icurve"}, "mark": {"type": "line", "color": "#000000", "strokeWidth": 1.3, "interpolate": "basis"},
 "encoding": {
  "x": {"field": "x", "type": "quantitative", "scale": {"domain": [0, 1], "range": [1022, 1508], "nice": false, "zero": false}, "axis": {"zindex": 1, "orient": "top", "offset": 2, "values": [0,0.1,0.2,0.3,0.4,0.5,0.6,0.7,0.8,0.9,1.0], "tickSize": -8, "tickWidth": 1.5, "domainWidth": 1.6, "labels": false, "title": null}},
  "y": {"field": "y", "type": "quantitative", "scale": {"domain": [0, 0.036], "range": [439, -2], "nice": false, "zero": false}, "axis": {"zindex": 1, "orient": "right", "offset": 27, "values": [0,0.005,0.01,0.015,0.02,0.025,0.03,0.035], "tickSize": -8, "tickWidth": 1.5, "domainWidth": 1.6, "labels": false, "title": null}},
  "detail": {"field": "id", "type": "nominal"}, "order": {"field": "o", "type": "quantitative"}}},
{"data": {"name": "ihead1"}, "mark": {"type": "point", "shape": "triangle-up", "filled": true, "color": "#000000", "opacity": 1, "size": 50, "angle": 35},
 "encoding": {"x": {"field": "x", "type": "quantitative", "scale": {"domain": [0, 1], "range": [1022, 1508], "nice": false, "zero": false}, "axis": null}, "y": {"field": "y", "type": "quantitative", "scale": {"domain": [0, 0.036], "range": [439, -2], "nice": false, "zero": false}, "axis": null}}},
{"data": {"name": "ihead2"}, "mark": {"type": "point", "shape": "triangle-up", "filled": true, "color": "#000000", "opacity": 1, "size": 50, "angle": 15},
 "encoding": {"x": {"field": "x", "type": "quantitative", "scale": {"domain": [0, 1], "range": [1022, 1508], "nice": false, "zero": false}, "axis": null}, "y": {"field": "y", "type": "quantitative", "scale": {"domain": [0, 0.036], "range": [439, -2], "nice": false, "zero": false}, "axis": null}}},
{"data": {"name": "ipts"}, "mark": {"type": "rule", "color": "#000000", "strokeWidth": 1.6},
 "encoding": {"x": {"field": "x", "type": "quantitative", "scale": {"domain": [0, 1], "range": [1022, 1508], "nice": false, "zero": false}, "axis": null}, "y": {"field": "lo", "type": "quantitative", "scale": {"domain": [0, 0.036], "range": [439, -2], "nice": false, "zero": false}, "axis": null}, "y2": {"field": "hi"}}},
{"data": {"name": "ipts"}, "mark": {"type": "tick", "orient": "horizontal", "color": "#000000", "size": 11, "thickness": 1.6, "opacity": 1},
 "encoding": {"x": {"field": "x", "type": "quantitative", "scale": {"domain": [0, 1], "range": [1022, 1508], "nice": false, "zero": false}, "axis": null}, "y": {"field": "lo", "type": "quantitative", "scale": {"domain": [0, 0.036], "range": [439, -2], "nice": false, "zero": false}, "axis": null}}},
{"data": {"name": "ipts"}, "mark": {"type": "tick", "orient": "horizontal", "color": "#000000", "size": 11, "thickness": 1.6, "opacity": 1},
 "encoding": {"x": {"field": "x", "type": "quantitative", "scale": {"domain": [0, 1], "range": [1022, 1508], "nice": false, "zero": false}, "axis": null}, "y": {"field": "hi", "type": "quantitative", "scale": {"domain": [0, 0.036], "range": [439, -2], "nice": false, "zero": false}, "axis": null}}},
{"data": {"name": "ipts"}, "mark": {"type": "point", "shape": "square", "filled": true, "color": "#333333", "stroke": "#000000", "strokeWidth": 1.5, "opacity": 1, "size": 36},
 "encoding": {"x": {"field": "x", "type": "quantitative", "scale": {"domain": [0, 1], "range": [1022, 1508], "nice": false, "zero": false}, "axis": null}, "y": {"field": "y", "type": "quantitative", "scale": {"domain": [0, 0.036], "range": [439, -2], "nice": false, "zero": false}, "axis": null}}},
{"data": {"name": "itxt"}, "transform": [{"filter": "datum.k == 'wh'"}], "mark": {"type": "text", "font": "Liberation Sans", "fontSize": 42, "color": "#0000ff", "align": "left", "baseline": "alphabetic"},
 "encoding": {"x": {"field": "x", "type": "quantitative", "scale": {"domain": [0, 1], "range": [1022, 1508], "nice": false, "zero": false}, "axis": null}, "y": {"field": "y", "type": "quantitative", "scale": {"domain": [0, 0.036], "range": [439, -2], "nice": false, "zero": false}, "axis": null}, "text": {"field": "s"}}},
{"data": {"name": "itxt"}, "transform": [{"filter": "datum.k == 'ib'"}], "mark": {"type": "text", "font": "Liberation Sans", "fontSize": 30, "fontWeight": "bold", "color": "#0000ff", "align": "left", "baseline": "alphabetic"},
 "encoding": {"x": {"field": "x", "type": "quantitative", "scale": {"domain": [0, 1], "range": [1022, 1508], "nice": false, "zero": false}, "axis": null}, "y": {"field": "y", "type": "quantitative", "scale": {"domain": [0, 0.036], "range": [439, -2], "nice": false, "zero": false}, "axis": null}, "text": {"field": "s"}}},
{"data": {"name": "itxt"}, "transform": [{"filter": "datum.k == 'isub'"}], "mark": {"type": "text", "font": "Liberation Serif", "fontSize": 22, "color": "#0000ff", "align": "left", "baseline": "alphabetic"},
 "encoding": {"x": {"field": "x", "type": "quantitative", "scale": {"domain": [0, 1], "range": [1022, 1508], "nice": false, "zero": false}, "axis": null}, "y": {"field": "y", "type": "quantitative", "scale": {"domain": [0, 0.036], "range": [439, -2], "nice": false, "zero": false}, "axis": null}, "text": {"field": "s"}}},
{"data": {"name": "itxt"}, "transform": [{"filter": "datum.k == 'mag'"}], "mark": {"type": "text", "font": "Liberation Sans", "fontSize": 30, "fontWeight": "bold", "color": "#ff00ff", "align": "left", "baseline": "alphabetic"},
 "encoding": {"x": {"field": "x", "type": "quantitative", "scale": {"domain": [0, 1], "range": [1022, 1508], "nice": false, "zero": false}, "axis": null}, "y": {"field": "y", "type": "quantitative", "scale": {"domain": [0, 0.036], "range": [439, -2], "nice": false, "zero": false}, "axis": null}, "text": {"field": "s"}}},
{"data": {"name": "itxt"}, "transform": [{"filter": "datum.k == 'xd'"}], "mark": {"type": "text", "font": "Liberation Sans", "fontSize": 46, "fontWeight": "bold", "fontStyle": "italic", "color": "#000000", "align": "left", "baseline": "alphabetic"},
 "encoding": {"x": {"field": "x", "type": "quantitative", "scale": {"domain": [0, 1], "range": [1022, 1508], "nice": false, "zero": false}, "axis": null}, "y": {"field": "y", "type": "quantitative", "scale": {"domain": [0, 0.036], "range": [439, -2], "nice": false, "zero": false}, "axis": null}, "text": {"field": "s"}}},
{"data": {"name": "itxt"}, "transform": [{"filter": "datum.k == 'xa'"}], "mark": {"type": "text", "font": "Liberation Sans", "fontSize": 26, "color": "#000000", "align": "left", "baseline": "alphabetic"},
 "encoding": {"x": {"field": "x", "type": "quantitative", "scale": {"domain": [0, 1], "range": [1022, 1508], "nice": false, "zero": false}, "axis": null}, "y": {"field": "y", "type": "quantitative", "scale": {"domain": [0, 0.036], "range": [439, -2], "nice": false, "zero": false}, "axis": null}, "text": {"field": "s"}}},
{"data": {"name": "itxt"}, "transform": [{"filter": "datum.k == 'xp'"}], "mark": {"type": "text", "font": "Liberation Sans", "fontSize": 44, "color": "#000000", "align": "left", "baseline": "alphabetic"},
 "encoding": {"x": {"field": "x", "type": "quantitative", "scale": {"domain": [0, 1], "range": [1022, 1508], "nice": false, "zero": false}, "axis": null}, "y": {"field": "y", "type": "quantitative", "scale": {"domain": [0, 0.036], "range": [439, -2], "nice": false, "zero": false}, "axis": null}, "text": {"field": "s"}}},
{"data": {"name": "itxt"}, "transform": [{"filter": "datum.k == 'xs'"}], "mark": {"type": "text", "font": "Liberation Sans", "fontSize": 24, "color": "#000000", "align": "left", "baseline": "alphabetic"},
 "encoding": {"x": {"field": "x", "type": "quantitative", "scale": {"domain": [0, 1], "range": [1022, 1508], "nice": false, "zero": false}, "axis": null}, "y": {"field": "y", "type": "quantitative", "scale": {"domain": [0, 0.036], "range": [439, -2], "nice": false, "zero": false}, "axis": null}, "text": {"field": "s"}}},
{"data": {"name": "itxt"}, "transform": [{"filter": "datum.k == 'yr'"}], "mark": {"type": "text", "font": "Liberation Sans", "fontSize": 50, "color": "#000000", "align": "left", "baseline": "alphabetic", "angle": 270},
 "encoding": {"x": {"field": "x", "type": "quantitative", "scale": {"domain": [0, 1], "range": [1022, 1508], "nice": false, "zero": false}, "axis": null}, "y": {"field": "y", "type": "quantitative", "scale": {"domain": [0, 0.036], "range": [439, -2], "nice": false, "zero": false}, "axis": null}, "text": {"field": "s"}}},
{"data": {"name": "itxt"}, "transform": [{"filter": "datum.k == 'yb'"}], "mark": {"type": "text", "font": "Liberation Sans", "fontSize": 50, "fontWeight": "bold", "color": "#000000", "align": "left", "baseline": "alphabetic", "angle": 270},
 "encoding": {"x": {"field": "x", "type": "quantitative", "scale": {"domain": [0, 1], "range": [1022, 1508], "nice": false, "zero": false}, "axis": null}, "y": {"field": "y", "type": "quantitative", "scale": {"domain": [0, 0.036], "range": [439, -2], "nice": false, "zero": false}, "axis": null}, "text": {"field": "s"}}},
{"data": {"name": "itxt"}, "transform": [{"filter": "datum.k == 'ysup'"}], "mark": {"type": "text", "font": "Liberation Sans", "fontSize": 26, "color": "#000000", "align": "left", "baseline": "alphabetic", "angle": 270},
 "encoding": {"x": {"field": "x", "type": "quantitative", "scale": {"domain": [0, 1], "range": [1022, 1508], "nice": false, "zero": false}, "axis": null}, "y": {"field": "y", "type": "quantitative", "scale": {"domain": [0, 0.036], "range": [439, -2], "nice": false, "zero": false}, "axis": null}, "text": {"field": "s"}}}
],
"resolve": {"axis": {"x": "independent", "y": "independent"}}
}
],
"resolve": {"scale": {"x": "independent", "y": "independent"}, "axis": {"x": "independent", "y": "independent"}}
}
